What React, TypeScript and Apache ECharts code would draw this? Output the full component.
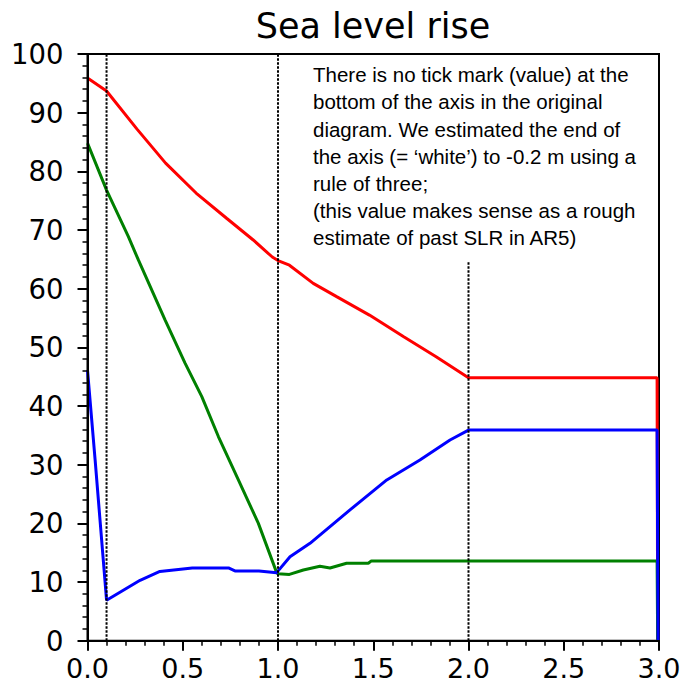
import React, { useEffect, useRef } from "react";
import * as echarts from "echarts";

// Sea-level-rise curves, [x, value] pairs
const RED_CURVE: [number, number][] = [
  [0, 95.9], [0.1, 93.7], [0.26, 87.2], [0.41, 81.4], [0.57, 76.3],
  [0.73, 72.0], [0.87, 68.3], [0.97, 65.4], [1.0, 64.8], [1.06, 64.0], [1.185, 60.9],
  [1.31, 58.6], [1.48, 55.5], [1.66, 51.8], [1.83, 48.4], [2.0, 44.8], [2.99, 44.8],
  [2.993, 0],
];

const GREEN_CURVE: [number, number][] = [
  [0, 84.8], [0.1, 76.8], [0.214, 68.9], [0.267, 64.9], [0.407, 54.7], [0.512, 47.3],
  [0.6, 41.6], [0.687, 34.8], [0.792, 27.4], [0.897, 20.0], [0.993, 11.6], [1.0, 11.4],
  [1.06, 11.3], [1.133, 12.05], [1.22, 12.7], [1.273, 12.4], [1.36, 13.2], [1.474, 13.2],
  [1.49, 13.6], [2.99, 13.6], [2.993, 0],
];

const BLUE_CURVE: [number, number][] = [
  [0, 46.1], [0.04, 30.8], [0.1, 6.9], [0.188, 8.6], [0.276, 10.3], [0.38, 11.8],
  [0.55, 12.4], [0.74, 12.4], [0.774, 11.9], [0.9, 11.9], [0.993, 11.6], [1.063, 14.3],
  [1.168, 16.6], [1.378, 22.3], [1.571, 27.4], [1.745, 30.8], [1.903, 34.2], [2.0, 35.9],
  [2.99, 35.9], [2.995, 0],
];

// Dotted vertical markers: x position and the level they reach
const MARKER_X = [0.1, 1.0, 2.0];
const MARKER_TOP = [100, 100, 64.6];

// Short dotted guides left of the value axis
const GUIDE_LEVEL = [64.6, 45.0];
const GUIDE_START = [-0.46, -0.46];
const GUIDE_END = [-0.34, -0.265];

const X_MIN = 0;
const X_MAX = 3;
const X_STEP = 0.5;
const X_MINOR_STEP = 0.1;
const Y_MIN = 0;
const Y_MAX = 100;
const Y_STEP = 10;
const Y_MINOR_STEP = 2;

const TITLE = "Sea level rise";
const NOTE_LINES = [
  "There is no tick mark (value) at the",
  "bottom of the axis in the original",
  "diagram. We estimated the end of",
  "the axis (= \u2018white\u2019) to -0.2 m using a",
  "rule of three;",
  "(this value makes sense as a rough",
  "estimate of past SLR in AR5)",
];

const AXIS_FONT = "DejaVu Sans";

export default function App() {
  const ref = useRef<HTMLDivElement>(null);

  useEffect(() => {
    if (!ref.current) return;
    const chart = echarts.init(ref.current, undefined, { renderer: "svg" });

    const dotted = { color: "#000", width: 2, type: [2.5, 1.5] as number[] };

    const markerSeries = MARKER_X.map((x, i) => ({
      type: "line",
      data: [[x, Y_MIN], [x, MARKER_TOP[i]]],
      symbol: "none",
      silent: true,
      z: 5,
      lineStyle: dotted,
    }));

    const guideSeries = GUIDE_LEVEL.map((y, i) => ({
      type: "line",
      data: [[GUIDE_START[i], y], [GUIDE_END[i], y]],
      symbol: "none",
      silent: true,
      clip: false,
      z: 5,
      lineStyle: dotted,
    }));

    const curve = (data: [number, number][], color: string) => ({
      type: "line",
      data,
      symbol: "none",
      silent: true,
      z: 3,
      lineStyle: { color, width: 3 },
    });

    // main axes: spine, long outward ticks and labels
    const majorParts = () => ({
      type: "value",
      z: 10,
      axisLine: { show: true, onZero: false, lineStyle: { color: "#000", width: 2 } },
      axisTick: { show: true, inside: false, length: 10, lineStyle: { color: "#000", width: 2 } },
      splitLine: { show: false },
    });

    // companion axes carrying only the short outward ticks
    const minorParts = () => ({
      type: "value",
      z: 10,
      axisLine: { show: false, onZero: false },
      axisTick: { show: true, inside: false, length: 5, lineStyle: { color: "#000", width: 1.5 } },
      axisLabel: { show: false },
      splitLine: { show: false },
    });

    chart.setOption({
      animation: false,
      backgroundColor: "#fff",
      grid: {
        left: 87.5,
        right: 28,
        top: 54,
        bottom: 48.3,
        show: true,
        borderColor: "#000",
        borderWidth: 2,
        backgroundColor: "transparent",
      },
      xAxis: [
        {
          ...majorParts(),
          position: "bottom",
          min: X_MIN,
          max: X_MAX,
          interval: X_STEP,
          axisLabel: {
            color: "#000",
            fontSize: 27,
            fontFamily: AXIS_FONT,
            margin: 14,
            formatter: (v: number) => v.toFixed(1),
          },
        },
        {
          ...minorParts(),
          position: "bottom",
          min: X_MIN,
          max: X_MAX,
          interval: X_MINOR_STEP,
        },
      ],
      yAxis: [
        {
          ...majorParts(),
          position: "left",
          min: Y_MIN,
          max: Y_MAX,
          interval: Y_STEP,
          axisLabel: {
            color: "#000",
            fontSize: 27.5,
            fontFamily: AXIS_FONT,
            margin: 24,
          },
        },
        {
          ...minorParts(),
          position: "left",
          min: Y_MIN,
          max: Y_MAX,
          interval: Y_MINOR_STEP,
        },
      ],
      graphic: [
        {
          type: "text",
          x: 373,
          y: 8,
          silent: true,
          style: {
            text: TITLE,
            fill: "#000",
            font: `35px "${AXIS_FONT}"`,
            align: "center",
            verticalAlign: "top",
          },
        },
        {
          type: "text",
          x: 313,
          y: 61,
          silent: true,
          style: {
            text: NOTE_LINES.join("\n"),
            fill: "#000",
            font: '20.5px "Liberation Sans"',
            lineHeight: 27.2,
            align: "left",
            verticalAlign: "top",
          },
        },
      ],
      series: [
        curve(RED_CURVE, "#ff0000"),
        curve(GREEN_CURVE, "#008000"),
        curve(BLUE_CURVE, "#0000ff"),
        ...markerSeries,
        ...guideSeries,
      ],
    });

    return () => chart.dispose();
  }, []);

  return (
    <div
      ref={ref}
      style={{ position: "absolute", left: 0, top: 0, width: 687, height: 689 }}
    />
  );
}
